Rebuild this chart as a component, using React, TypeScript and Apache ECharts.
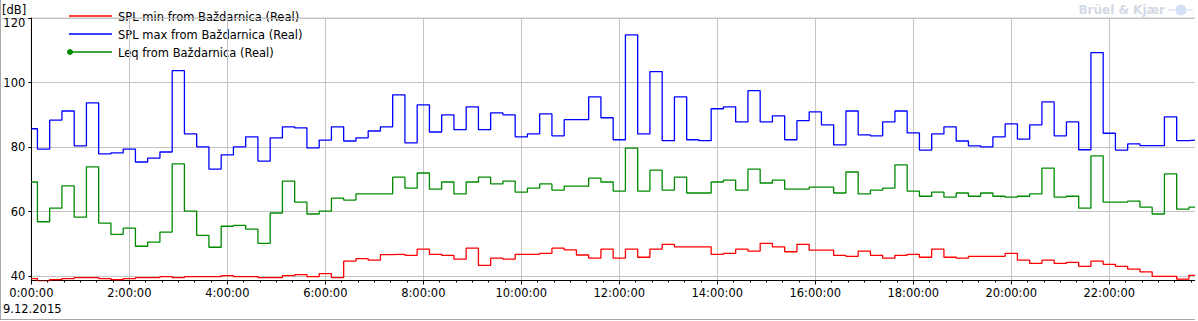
import React, { useEffect, useRef } from "react";
import * as echarts from "echarts";

const seriesNames = [
  "SPL min from Baždarnica (Real)",
  "SPL max from Baždarnica (Real)",
  "Leq from Baždarnica (Real)",
];
const seriesColors = ["#ff0000", "#0000ff", "#008a00"];
const stepHours = 0.25; // one value every 15 minutes, starting 0:00:00

const splMin = [
  39.3, 38.4, 38.95, 39.3, 39.6, 39.6, 39.3, 38.95, 39.3, 39.6, 39.6, 39.9,
  39.6, 39.9, 39.9, 39.9, 40.2, 39.9, 39.9, 39.6, 39.6, 40.2, 40.5, 39.9,
  40.8, 39.6, 44.7, 45.5, 45.0, 46.7, 46.8, 46.5, 48.4, 46.8, 46.5, 45.3,
  48.7, 43.4, 45.6, 45.3, 46.8, 46.8, 47.1, 48.7, 48.2, 46.6, 45.6, 48.4,
  45.6, 48.4, 45.9, 48.4, 49.9, 49.1, 49.1, 49.1, 46.8, 47.1, 48.4, 47.8,
  50.2, 49.1, 47.6, 49.9, 48.1, 48.1, 46.5, 46.2, 47.8, 46.5, 45.6, 46.5,
  46.8, 45.9, 48.4, 45.9, 45.6, 46.2, 46.2, 46.2, 47.1, 45.0, 44.0, 45.0,
  44.0, 44.3, 43.1, 44.7, 43.7, 43.1, 42.2, 41.4, 40.0, 40.0, 39.1, 40.3,
];

const splMax = [
  85.7, 79.4, 88.4, 91.2, 80.4, 93.7, 77.9, 78.2, 79.4, 75.4, 76.6, 78.5,
  103.7, 84.1, 80.1, 73.2, 77.6, 80.1, 83.2, 75.7, 82.9, 86.3, 86.0, 79.8,
  82.2, 86.3, 81.9, 82.9, 85.0, 86.3, 96.2, 81.3, 93.1, 84.7, 90.0, 85.4,
  92.5, 85.4, 90.6, 90.0, 83.2, 84.1, 90.3, 83.5, 88.5, 88.5, 95.6, 89.1,
  82.3, 114.8, 84.1, 103.4, 82.0, 95.6, 82.3, 82.0, 91.9, 92.5, 87.8, 97.5,
  87.8, 89.7, 82.3, 88.2, 90.9, 86.9, 80.7, 91.2, 83.8, 83.5, 87.8, 91.2,
  84.4, 79.1, 84.1, 86.3, 81.9, 80.4, 80.1, 83.2, 87.2, 82.5, 86.9, 94.0,
  83.5, 87.8, 79.2, 109.3, 84.3, 79.1, 81.0, 80.5, 80.5, 89.4, 82.0, 82.2,
];

const leq = [
  69.2, 56.9, 61.1, 68.0, 58.3, 73.9, 56.5, 53.0, 54.9, 49.3, 50.6, 53.7,
  74.8, 60.2, 52.7, 49.0, 55.5, 55.8, 54.6, 50.2, 59.6, 69.5, 63.0, 59.3,
  60.2, 64.2, 63.6, 65.5, 65.5, 65.5, 70.7, 67.3, 72.0, 67.0, 69.2, 65.5,
  69.2, 70.7, 68.6, 69.5, 66.1, 67.3, 68.6, 66.7, 67.9, 67.9, 70.4, 69.2,
  66.4, 79.7, 66.4, 72.9, 66.7, 70.7, 65.8, 65.8, 69.2, 69.8, 66.7, 73.2,
  68.9, 69.8, 67.0, 67.0, 67.6, 67.6, 65.8, 72.3, 65.5, 66.7, 67.3, 74.5,
  66.4, 64.8, 66.1, 64.5, 65.8, 64.8, 65.8, 64.8, 64.5, 64.8, 65.5, 73.5,
  64.5, 64.8, 61.1, 77.3, 63.0, 63.0, 63.3, 61.4, 59.3, 71.7, 60.8, 61.4,
];

const yTickValues = [40, 60, 80, 100, 120];
const unitLabel = "[dB]";
const dateLabel = "9.12.2015";
const watermarkText = "Brüel & Kjær";

const FONT = "DejaVu Sans";
const FS = 11.5;

function toPoints(values: number[]) {
  return values.map((v, i) => [i * stepHours, v]);
}

export default function App() {
  const ref = useRef<HTMLDivElement>(null);

  useEffect(() => {
    if (!ref.current) return;
    const chart = echarts.init(ref.current, undefined, { renderer: "svg" });
    const data = [splMin, splMax, leq];

    const legendRows = [16, 34, 52];
    const legendGraphics: any[] = [];
    seriesNames.forEach((name, i) => {
      legendGraphics.push({
        type: "line",
        shape: { x1: 69, y1: legendRows[i], x2: 112, y2: legendRows[i] },
        style: { stroke: seriesColors[i], lineWidth: 1.3 },
        silent: true,
      });
      legendGraphics.push({
        type: "text",
        x: 118,
        y: legendRows[i] + 1,
        style: {
          text: name,
          fill: "#000",
          font: `${FS}px "${FONT}"`,
          verticalAlign: "middle",
        },
        silent: true,
      });
    });
    legendGraphics.push({
      type: "circle",
      shape: { cx: 70, cy: legendRows[2], r: 3 },
      style: { fill: seriesColors[2] },
      silent: true,
    });

    const option: any = {
      animation: false,
      backgroundColor: "#ffffff",
      grid: {
        left: 31.3,
        top: 18,
        width: 24 * 49,
        height: 262.5,
        show: true,
        borderColor: "#c4c4c4",
        borderWidth: 1,
        backgroundColor: "transparent",
        containLabel: false,
        outerBoundsMode: "none",
      },
      xAxis: {
        type: "value",
        min: 0,
        max: 24,
        interval: 2,
        axisLine: { show: true, lineStyle: { color: "#000", width: 1 } },
        axisTick: { show: true, length: 4, lineStyle: { color: "#000" } },
        minorTick: { show: true, splitNumber: 6, length: 2, lineStyle: { color: "#000" } },
        splitLine: {
          show: true,
          showMinLine: true,
          showMaxLine: true,
          lineStyle: { color: "#c4c4c4", width: 1 },
        },
        axisLabel: {
          margin: 6,
          color: "#000",
          fontFamily: FONT,
          fontSize: FS,
          showMaxLabel: false,
          formatter: (v: number) => `${Math.round(v)}:00:00`,
        },
      },
      yAxis: {
        type: "value",
        min: 38.7,
        max: 120,
        axisLine: { show: true, lineStyle: { color: "#000", width: 1 } },
        axisTick: { show: true, length: 3, customValues: yTickValues, lineStyle: { color: "#000" } },
        splitLine: {
          show: true,
          showMinLine: true,
          showMaxLine: true,
          lineStyle: { color: "#c4c4c4", width: 1 },
        },
        axisLabel: {
          margin: 6,
          color: "#000",
          fontFamily: FONT,
          fontSize: FS,
          customValues: yTickValues,
          formatter: (v: number) => (v === 120 ? `{top|${v}}` : `${v}`),
          rich: {
            top: {
              padding: [10, 0, 0, 0],
              color: "#000",
              fontFamily: FONT,
              fontSize: FS,
            },
          },
        },
      },
      series: data.map((vals, i) => ({
        name: seriesNames[i],
        type: "line",
        step: "middle",
        data: toPoints(vals),
        symbol: "none",
        showSymbol: false,
        clip: true,
        lineStyle: { color: seriesColors[i], width: 1.3 },
        itemStyle: { color: seriesColors[i] },
        z: 2 + i,
      })),
      graphic: [
        {
          type: "line",
          shape: { x1: 0.5, y1: 0, x2: 0.5, y2: 320 },
          style: { stroke: "#a8a8a8", lineWidth: 1 },
          silent: true,
        },
        {
          type: "line",
          shape: { x1: 0, y1: 319.5, x2: 1198, y2: 319.5 },
          style: { stroke: "#a8a8a8", lineWidth: 1 },
          silent: true,
        },
        {
          type: "line",
          shape: { x1: 0, y1: 18.5, x2: 32, y2: 18.5 },
          style: { stroke: "#c4c4c4", lineWidth: 1 },
          silent: true,
        },
        {
          type: "text",
          x: 2,
          y: 10,
          style: {
            text: unitLabel,
            fill: "#000",
            font: `${FS}px "${FONT}"`,
            verticalAlign: "middle",
          },
          silent: true,
        },
        {
          type: "text",
          x: 3,
          y: 309,
          style: {
            text: dateLabel,
            fill: "#000",
            font: `${FS}px "${FONT}"`,
            verticalAlign: "middle",
          },
          silent: true,
        },
        {
          type: "text",
          x: 1165,
          y: 10,
          style: {
            text: watermarkText,
            fill: "#d3d9e4",
            font: `bold 12px "${FONT}"`,
            align: "right",
            verticalAlign: "middle",
          },
          silent: true,
        },
        {
          type: "line",
          shape: { x1: 1168, y1: 10, x2: 1193, y2: 10 },
          style: { stroke: "#cfdaf0", lineWidth: 1 },
          silent: true,
        },
        {
          type: "circle",
          shape: { cx: 1181, cy: 10, r: 5.5 },
          style: { fill: "#d4e0f4" },
          silent: true,
        },
        ...legendGraphics,
      ],
    };

    chart.setOption(option);
    return () => chart.dispose();
  }, []);

  return (
    <div
      ref={ref}
      style={{
        position: "fixed",
        left: 0,
        top: 0,
        width: 1195,
        height: 321,
        overflow: "hidden",
        background: "#fff",
      }}
    />
  );
}
